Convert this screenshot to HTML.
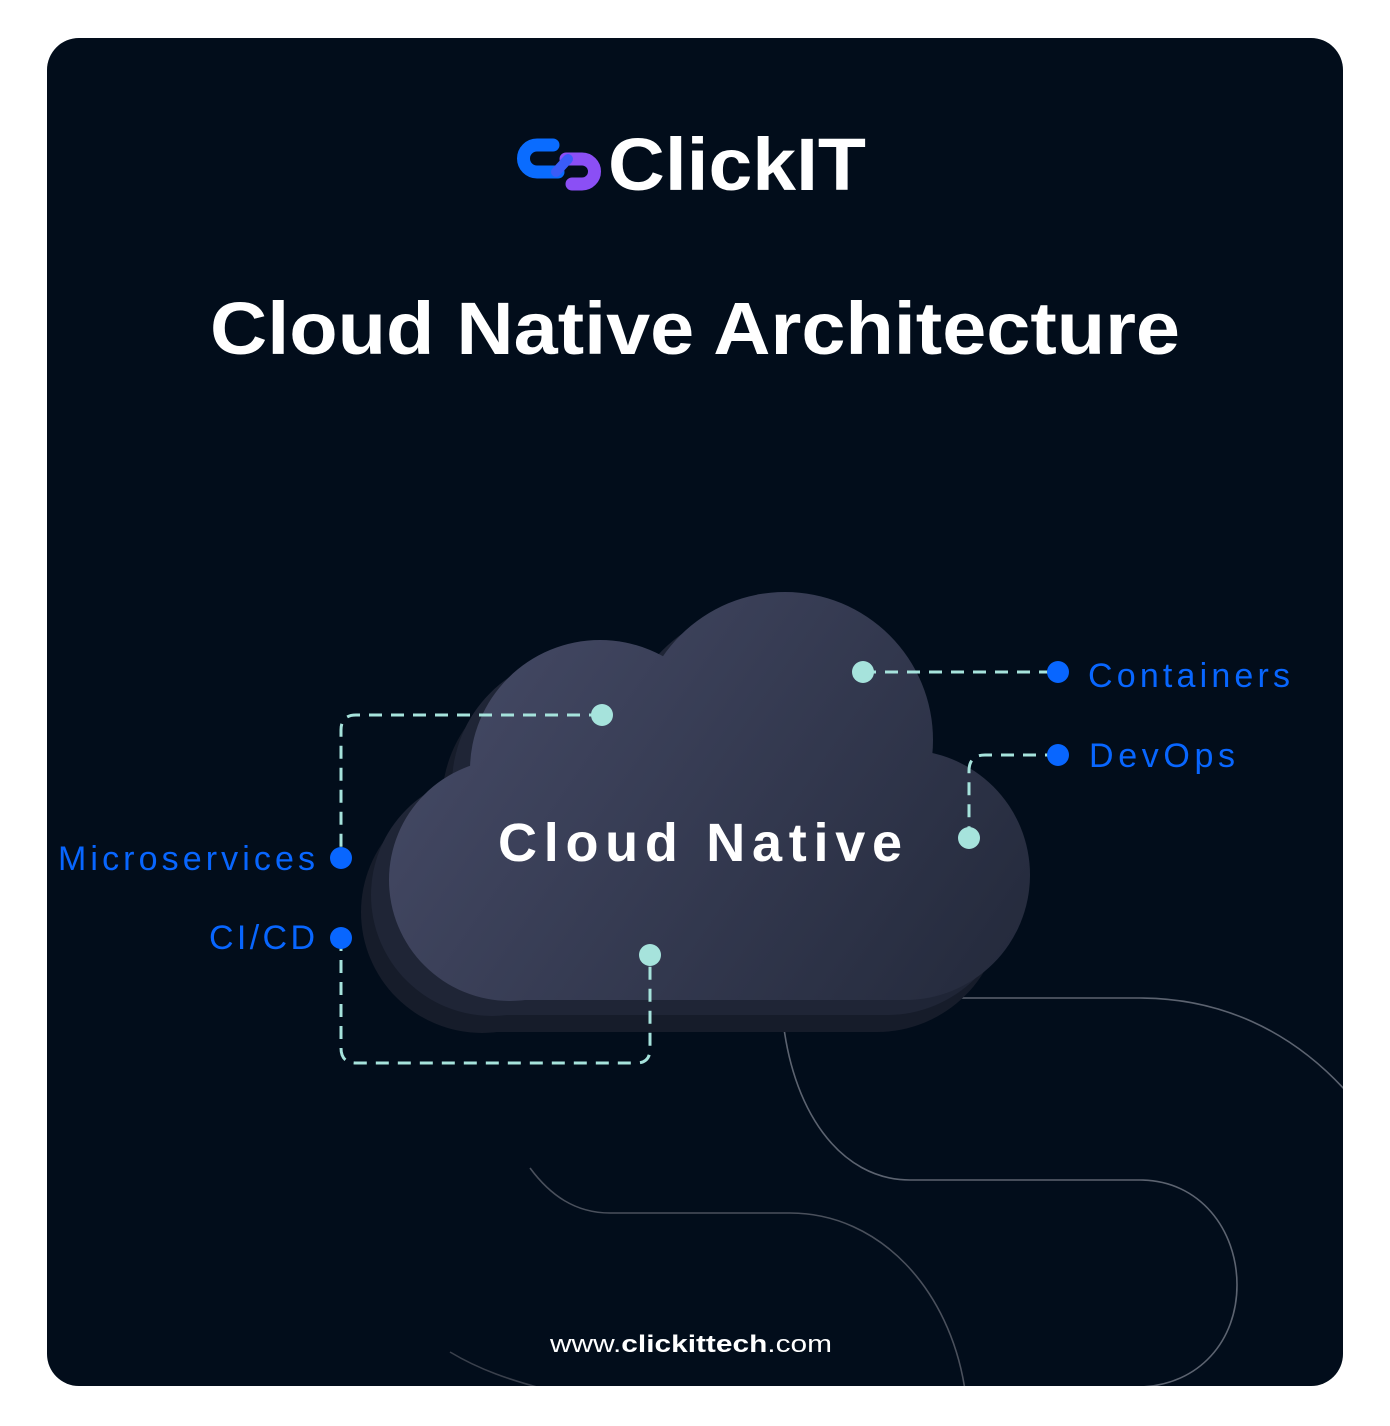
<!DOCTYPE html>
<html><head><meta charset="utf-8"><style>
html,body{margin:0;padding:0;background:#fff;}
svg{display:block;}
</style></head><body>
<svg width="1390" height="1426" viewBox="0 0 1390 1426" xmlns="http://www.w3.org/2000/svg">
<defs>
<linearGradient id="cg" gradientUnits="userSpaceOnUse" x1="480" y1="640" x2="1000" y2="1000">
<stop offset="0" stop-color="#434863"/><stop offset="1" stop-color="#242a3c"/>
</linearGradient>
<clipPath id="card"><rect x="47" y="38" width="1296" height="1348" rx="32"/></clipPath>
<g id="cloud">
<circle cx="785" cy="740" r="148"/>
<circle cx="600" cy="770" r="130"/>
<circle cx="510" cy="880" r="121"/>
<circle cx="905" cy="875" r="125"/>
<rect x="510" y="759" width="395" height="241"/>
</g>
</defs>
<rect x="47" y="38" width="1296" height="1348" rx="32" fill="#020d1b"/>
<g clip-path="url(#card)" fill="none" stroke-width="1.6">
<path d="M940 998 H1140 C1220 998 1290 1030 1345 1090" stroke="#5c6370"/>
<path d="M782 1010 C790 1110 840 1180 910 1180 H1140 C1200 1180 1237 1230 1237 1285 C1237 1340 1200 1385 1140 1387" stroke="#5c6370"/>
<path d="M530 1168 C550 1195 575 1213 610 1213 H790 C880 1213 950 1290 965 1390" stroke="#4a505c"/>
<path d="M450 1352 C480 1370 510 1380 548 1390" stroke="#3a404c"/>
</g>
<use href="#cloud" transform="translate(-28,32)" fill="#161c2a"/>
<use href="#cloud" transform="translate(-18,15)" fill="#1f2536"/>
<use href="#cloud" fill="url(#cg)"/>
<g fill="none" stroke="#a6e3dc" stroke-width="3" stroke-dasharray="13 9">
<path d="M602 715 H356 Q341 715 341 730 V858"/>
<path d="M341 938 V1048 Q341 1063 356 1063 H636 Q650 1063 650 1049 V955"/>
<path d="M863 672 H1058"/>
<path d="M1058 755 H985 Q969 755 969 771 V838"/>
</g>
<g fill="#a6e3dc">
<circle cx="602" cy="715" r="11"/><circle cx="863" cy="672" r="11"/>
<circle cx="969" cy="838" r="11"/><circle cx="650" cy="955" r="11"/>
</g>
<g fill="#0866ff">
<circle cx="1058" cy="672" r="11"/><circle cx="1058" cy="755" r="11"/>
<circle cx="341" cy="858" r="11"/><circle cx="341" cy="938" r="11"/>
</g>
<g font-family="Liberation Sans, sans-serif" fill="#0866ff" font-size="34">
<text x="1088" y="687" textLength="202" lengthAdjust="spacing">Containers</text>
<text x="1089" y="767" textLength="146" lengthAdjust="spacing">DevOps</text>
<text x="58" y="870" textLength="257" lengthAdjust="spacing">Microservices</text>
<text x="209" y="949" textLength="106" lengthAdjust="spacing">CI/CD</text>
</g>
<text x="498" y="861" font-family="Liberation Sans, sans-serif" font-weight="bold" font-size="54" fill="#fff" textLength="404" lengthAdjust="spacing">Cloud Native</text>
<g fill="none" stroke-width="13" stroke-linecap="round">
<path d="M553 145 H537 A13.5 13.5 0 0 0 537 172 H558" stroke="#0a6cff"/>
<path d="M566 159 H582 A12.5 12.5 0 0 1 582 184 H572" stroke="#8b4ff5"/>
<path d="M556 172 L568 159" stroke="#3a5cf8" stroke-width="10"/>
</g>
<text x="608" y="190" font-family="Liberation Sans, sans-serif" font-weight="bold" font-size="74" fill="#fff" textLength="258" lengthAdjust="spacingAndGlyphs">ClickIT</text>
<text x="695" y="354" text-anchor="middle" font-family="Liberation Sans, sans-serif" font-weight="bold" font-size="74" fill="#fff" textLength="970" lengthAdjust="spacingAndGlyphs">Cloud Native Architecture</text>
<text x="550" y="1352" font-family="Liberation Sans, sans-serif" font-size="24" fill="#fff" textLength="282" lengthAdjust="spacingAndGlyphs">www.<tspan font-weight="bold">clickittech</tspan>.com</text>
</svg>
</body></html>
